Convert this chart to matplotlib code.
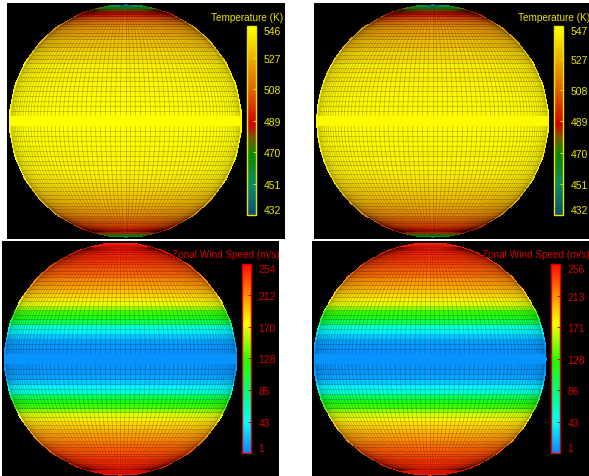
"""Venus-style globe maps: temperature and zonal wind speed, two runs each."""
import numpy as np
import matplotlib
matplotlib.use("Agg")
import matplotlib.pyplot as plt
from matplotlib.colors import LinearSegmentedColormap, Normalize

plt.rcParams["font.family"] = ["Liberation Sans", "DejaVu Sans"]

W, H = 589, 477
RADIUS = 115.5

# band values from the equator to the pole, one per 2.5 deg of latitude
temp_north = [546, 546, 546, 545, 546, 545, 543, 545, 542, 544, 541, 543,
              540, 536, 539, 534, 531, 533, 529, 527, 525, 523, 520, 516,
              511, 505, 496, 487, 485, 482, 478, 472, 466, 458, 450, 442]
temp_south = [546, 546, 546, 545, 546, 545, 543, 545, 542, 544, 543, 541,
              540, 538, 536, 534, 532, 530, 528, 525, 521, 519, 514, 510,
              506, 503, 498, 490, 486, 483, 478, 470, 464, 456, 448, 440]
wind_north = [8, 8, 9, 12, 24, 40, 58, 100, 118, 132, 152, 172,
              184, 190, 198, 205, 212, 216, 224, 228, 232, 236, 240, 243,
              245, 248, 250, 252, 253, 254, 254, 254, 254, 254, 254, 252]
wind_south = [8, 8, 10, 14, 26, 42, 60, 102, 120, 134, 154, 170,
              182, 190, 196, 204, 210, 215, 222, 227, 231, 235, 239, 242,
              244, 247, 249, 251, 253, 254, 254, 254, 254, 254, 254, 250]

temp_ticks_left = [432, 451, 470, 489, 508, 527, 546]
temp_ticks_right = [432, 451, 470, 489, 508, 527, 547]
wind_ticks_left = [1, 43, 85, 128, 170, 212, 254]
wind_ticks_right = [1, 43, 86, 128, 171, 213, 256]

temp_cmap = LinearSegmentedColormap.from_list("temp", [
    (0.00, "#0a4a78"), (0.17, "#0a8a66"), (0.33, "#0a8a00"), (0.42, "#7a5a00"),
    (0.49, "#d00000"), (0.67, "#e06000"), (0.83, "#eaa800"), (1.00, "#ffff00")])
wind_cmap = LinearSegmentedColormap.from_list("wind", [
    (0.00, "#0a7fff"), (0.17, "#00ffff"), (0.33, "#00ff80"), (0.50, "#20ff00"),
    (0.70, "#ffff00"), (0.83, "#ff9a00"), (1.00, "#ff1400")])

fig = plt.figure(figsize=(W / 100, H / 100), dpi=100, facecolor="white")


def px_axes(left, top, right, bottom):
    return fig.add_axes([left / W, 1 - bottom / H, (right - left) / W, (bottom - top) / H])


def globe(panel, centre, bar, north, south, ticks, cmap, title, title_x, title_y, color):
    left, top, right, bottom = panel
    cx, cy = centre
    ax = px_axes(*panel)
    ax.set_xlim((left - cx) / RADIUS, (right - cx) / RADIUS)
    ax.set_ylim((cy - bottom) / RADIUS, (cy - top) / RADIUS)
    ax.axis("off")
    ax.add_patch(plt.Rectangle((0, 0), 1, 1, transform=ax.transAxes, color="black"))

    lat_deg = np.arange(-90, 90.1, 2.5)
    lon_deg = np.arange(-90, 90.1, 2.5)
    lon, lat = np.meshgrid(np.radians(lon_deg), np.radians(lat_deg))
    x = np.cos(lat) * np.sin(lon)
    y = np.sin(lat)
    band = np.array(south[::-1] + north, dtype=float)
    values = np.repeat(band[:, None], len(lon_deg) - 1, axis=1)
    norm = Normalize(ticks[0], ticks[-1])
    mesh = ax.pcolormesh(x, y, values, cmap=cmap, norm=norm, shading="flat",
                         edgecolors="face", linewidth=0.3)

    # grid drawn by hand so it stays faint, with none on the equatorial strip
    fine = np.radians(np.linspace(-82, 82, 83))
    for d in lat_deg:
        if abs(d) < 3 or abs(d) > 82:
            continue
        r = np.radians(d)
        ax.plot(np.cos(r) * np.sin(fine), np.full_like(fine, np.sin(r)),
                color="black", alpha=0.24, lw=0.55, solid_capstyle="butt")
    for d in lon_deg[3:-3]:
        for a, b in ((-75, -2.5), (2.5, 75)):
            part = np.radians(np.linspace(a, b, 40))
            ax.plot(np.cos(part) * np.sin(np.radians(d)), np.sin(part),
                    color="black", alpha=0.24, lw=0.55, solid_capstyle="butt")

    cax = px_axes(*bar)
    cb = fig.colorbar(mesh, cax=cax, ticks=ticks)
    cb.solids.set_edgecolor("face")
    cb.outline.set_edgecolor(color)
    cb.outline.set_linewidth(1.0)
    cax.tick_params(axis="y", direction="in", length=2, width=0.7, color=color,
                    labelcolor=color, labelsize=7.5, pad=5.5)
    labels = cax.get_yticklabels()
    labels[0].set_va("bottom")
    labels[-1].set_va("top")
    fig.text(title_x / W, 1 - title_y / H, title, color=color, fontsize=7.2,
             ha="left", va="center")


YELLOW = "#e6e600"
RED = "#d80000"
globe((7, 4, 285, 240), (125.5, 122), (247, 27, 256, 216), temp_north, temp_south,
      temp_ticks_left, temp_cmap, "Temperature (K)", 211, 18, YELLOW)
globe((314, 4, 589, 240), (432.7, 122), (554, 27, 563, 216), temp_north, temp_south,
      temp_ticks_right, temp_cmap, "Temperature (K)", 518, 18, YELLOW)
globe((2, 242, 279, 477), (120.5, 360), (242, 265, 251, 454), wind_north, wind_south,
      wind_ticks_left, wind_cmap, "Zonal Wind Speed (m/s)", 172, 255, RED)
globe((312, 242, 589, 477), (430, 360), (551, 265, 560, 454), wind_north, wind_south,
      wind_ticks_right, wind_cmap, "Zonal Wind Speed (m/s)", 482, 255, RED)

fig.savefig("out.png", dpi=100, facecolor="white")
